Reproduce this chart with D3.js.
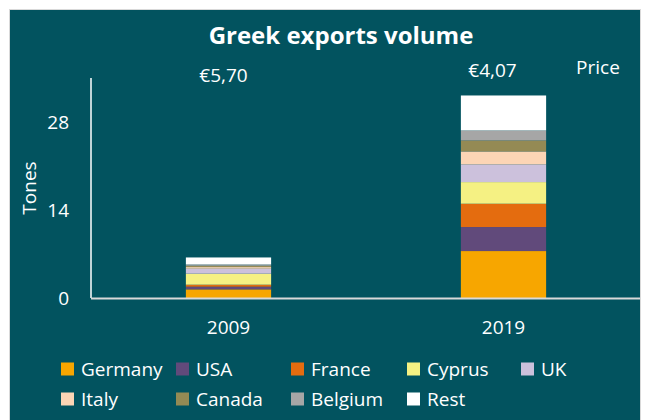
<!DOCTYPE html>
<html>
<head>
<meta charset="utf-8">
<script src="https://cdn.jsdelivr.net/npm/d3@7"></script>
<style>
  html, body { margin: 0; padding: 0; background: #ffffff; }
  svg { display: block; font-family: "Open Sans", "Noto Sans", sans-serif; }
</style>
</head>
<body>
<svg id="chart" width="646" height="420"></svg>
<script>
// Export destinations, stacked bottom to top
const countries = ["Germany", "USA", "France", "Cyprus", "UK", "Italy", "Canada", "Belgium", "Rest"];
const years = ["2009", "2019"];
// Volume in tones per destination, one array per year (same order as countries)
const volume2009 = [1.38, 0.42, 0.32, 1.75, 0.79, 0.26, 0.21, 0.21, 1.11];
const volume2019 = [7.47, 3.82, 3.71, 3.44, 2.81, 2.07, 1.75, 1.59, 5.56];
// Average price per year
const prices = ["€5,70", "€4,07"];
const yTicks = [0, 14, 28];
const colors = ["#f7a600", "#614a7b", "#e46c0f", "#f5f183", "#ccc1dc", "#fcd5b5", "#948a54", "#a6a6a6", "#ffffff"];

const svg = d3.select("#chart");
const panel = { x: 10, y: 10, w: 630, h: 410 };
const plot = { left: 91, right: 641, top: 78, bottom: 298 };

// Panel background
svg.append("rect").attr("x", panel.x - 1).attr("y", panel.y - 1)
  .attr("width", panel.w + 2).attr("height", panel.h + 2).attr("fill", "#d9d9d9");
svg.append("rect").attr("x", panel.x).attr("y", panel.y)
  .attr("width", panel.w).attr("height", panel.h).attr("fill", "#02535f");

// Title
svg.append("text").attr("x", 341).attr("y", 44)
  .attr("text-anchor", "middle").attr("fill", "#ffffff")
  .attr("font-size", 24).attr("font-weight", "bold")
  .text("Greek exports volume");

const x = d3.scaleBand().domain(years).range([plot.left, plot.right]).paddingInner(0.69).paddingOuter(0.345);
const y = d3.scaleLinear().domain([0, 35]).range([plot.bottom, plot.top]);

// Build stacked series
const table = years.map((yr, i) => {
  const vals = i === 0 ? volume2009 : volume2019;
  const row = { year: yr };
  countries.forEach((c, j) => row[c] = vals[j]);
  return row;
});
const series = d3.stack().keys(countries)(table);

const g = svg.append("g");
g.selectAll("g.series").data(series).join("g")
  .attr("fill", (d, i) => colors[i])
  .selectAll("rect").data(d => d).join("rect")
  .attr("x", d => x(d.data.year))
  .attr("width", x.bandwidth())
  .attr("y", d => y(d[1]))
  .attr("height", d => y(d[0]) - y(d[1]));

// Y axis (line + labels, no ticks)
const yAxis = d3.axisLeft(y).tickValues(yTicks).tickSize(0).tickPadding(22).tickFormat(d3.format("d"));
const ya = svg.append("g").attr("transform", `translate(${plot.left},0)`).call(yAxis);
ya.select(".domain").remove();
ya.selectAll("text").attr("fill", "#ffffff").attr("font-size", 19)
  .attr("font-family", "'Open Sans', sans-serif");
svg.append("line").attr("x1", plot.left).attr("x2", plot.left)
  .attr("y1", plot.top).attr("y2", plot.bottom)
  .attr("stroke", "#ffffff").attr("stroke-width", 1.5);

// X axis baseline and labels
svg.append("line").attr("x1", plot.left).attr("x2", panel.x + panel.w)
  .attr("y1", y(0) + 0.5).attr("y2", y(0) + 0.5)
  .attr("stroke", "#d9d9d9").attr("stroke-width", 2);
const xAxis = d3.axisBottom(x).tickSize(0).tickPadding(23);
const xa = svg.append("g").attr("transform", `translate(0,${y(0)})`).call(xAxis);
xa.select(".domain").remove();
xa.selectAll("text").attr("fill", "#ffffff").attr("font-size", 19)
  .attr("font-family", "'Open Sans', sans-serif");

// Y axis title
svg.append("text").attr("transform", "translate(36,188) rotate(-90)")
  .attr("text-anchor", "middle").attr("fill", "#ffffff").attr("font-size", 19)
  .text("Tones");

// Price labels above the bars
const priceDx = [-5, -11], priceDy = [82, 77];
svg.selectAll("text.price").data(prices).join("text")
  .attr("class", "price")
  .attr("x", (d, i) => x(years[i]) + x.bandwidth() / 2 + priceDx[i])
  .attr("y", (d, i) => priceDy[i])
  .attr("text-anchor", "middle").attr("fill", "#ffffff").attr("font-size", 19)
  .text(d => d);
svg.append("text").attr("x", 598).attr("y", 74)
  .attr("text-anchor", "middle").attr("fill", "#ffffff").attr("font-size", 19)
  .text("Price");

// Legend: 5 columns, 2 rows
const colX = [61, 176, 291, 407, 521];
const rowY = [369, 399];
const leg = svg.append("g").selectAll("g").data(countries).join("g")
  .attr("transform", (d, i) => `translate(${colX[i % 5]},${rowY[Math.floor(i / 5)]})`);
leg.append("rect").attr("x", 0).attr("y", -6.5).attr("width", 13).attr("height", 13)
  .attr("fill", (d, i) => colors[i]);
leg.append("text").attr("x", 20).attr("y", 7)
  .attr("fill", "#ffffff").attr("font-size", 19)
  .text(d => d);
</script>
</body>
</html>
